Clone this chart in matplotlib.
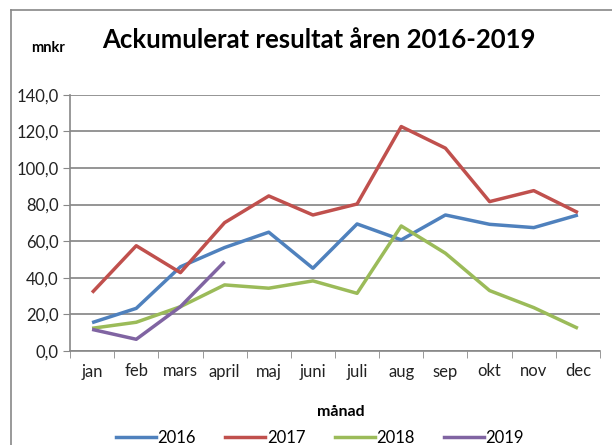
import matplotlib
matplotlib.use('Agg')
import matplotlib.pyplot as plt
from matplotlib.ticker import FuncFormatter, MultipleLocator, FixedLocator
from matplotlib.lines import Line2D

plt.rcParams['font.family'] = ['Lato', 'DejaVu Sans']

months = ['jan', 'feb', 'mars', 'april', 'maj', 'juni', 'juli', 'aug', 'sep', 'okt', 'nov', 'dec']
v2016 = [15.5, 23.3, 46.0, 56.5, 64.9, 45.2, 69.4, 60.7, 74.3, 69.2, 67.4, 74.3]
v2017 = [31.9, 57.5, 42.8, 70.1, 84.7, 74.3, 80.3, 122.6, 110.8, 81.6, 87.6, 75.6]
v2018 = [12.4, 15.7, 24.2, 36.1, 34.3, 38.3, 31.5, 68.3, 53.4, 33.0, 23.7, 12.4]
v2019 = [11.8, 6.4, 24.2, 48.8]
years = ['2016', '2017', '2018', '2019']
colors = ['#4F81BD', '#C0504D', '#9BBB59', '#8064A2']

fig = plt.figure(figsize=(6.12, 4.45), dpi=100)
ax = fig.add_axes([70/612, 1-351/445, 530/612, (351-94.7)/445])

x = list(range(len(months)))
for vals, c, lab in zip([v2016, v2017, v2018, v2019], colors, years):
    ax.plot(x[:len(vals)], vals, color=c, lw=2.5, label=lab, solid_capstyle='butt')

ax.set_xlim(-0.5, 11.5)
ax.set_ylim(0, 140)
ax.yaxis.set_major_locator(MultipleLocator(20))
ax.yaxis.set_major_formatter(FuncFormatter(lambda v, p: f'{v:.1f}'.replace('.', ',')))
ax.set_xticks(x)
ax.set_xticklabels(months)
ax.xaxis.set_minor_locator(FixedLocator([i - 0.5 for i in range(13)]))
ax.tick_params(axis='x', which='major', length=0, pad=9, labelsize=12, colors='#222222')
ax.tick_params(axis='x', which='minor', length=5, color='#888888', direction='out')
ax.tick_params(axis='y', length=5, color='#888888', labelsize=12, colors='#222222', pad=3)
ax.grid(axis='y', color='#8c8c8c', lw=1.3)
ax.set_axisbelow(True)
for s in ['top', 'right']:
    ax.spines[s].set_visible(False)
for s in ['left', 'bottom']:
    ax.spines[s].set_color('#888888')
    ax.spines[s].set_linewidth(1.2)

fig.text(319/612, 1-40/445, 'Ackumulerat resultat åren 2016-2019', ha='center', va='center',
         fontsize=18.5, fontweight='bold')
fig.text(48/612, 1-48/445, 'mnkr', ha='center', va='center', fontsize=10.5, fontweight='bold')
fig.text(341/612, 1-412/445, 'månad', ha='center', va='center', fontsize=11.5, fontweight='bold')

handles = [Line2D([0], [0], color=c, lw=2.5) for c in colors]
fig.legend(handles, years, loc='center', bbox_to_anchor=(320/612, 1-438/445), ncol=4,
           frameon=False, fontsize=12, handlelength=2.4, handletextpad=0.1, columnspacing=1.75)

# outer chart frame
fig.add_artist(Line2D([11/612, 11/612], [0, 1-10/445], transform=fig.transFigure, color='#888888', lw=1.2))
fig.add_artist(Line2D([11/612, 1], [1-10/445, 1-10/445], transform=fig.transFigure, color='#888888', lw=1.2))

fig.savefig('out.png', dpi=100)
